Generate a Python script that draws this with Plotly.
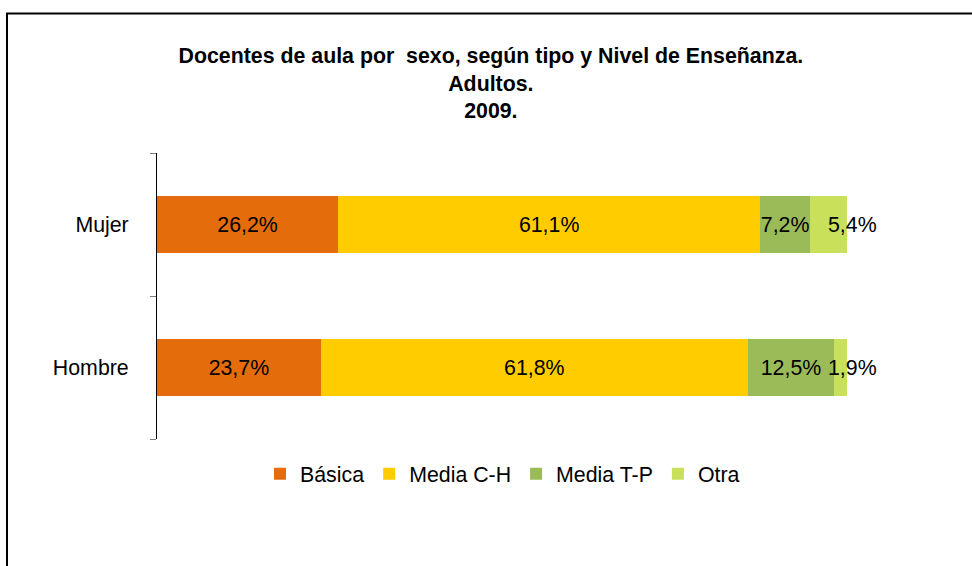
import plotly.graph_objects as go

# ---- data ----
categorias = ["Hombre", "Mujer"]
series = ["Básica", "Media C-H", "Media T-P", "Otra"]
colores = ["#E46C0A", "#FFCC00", "#9BBB59", "#C9E05A"]
valores_hombre = [23.7, 61.8, 12.5, 1.9]
valores_mujer = [26.2, 61.1, 7.2, 5.4]
titulo = "Docentes de aula por  sexo, según tipo y Nivel de Enseñanza.<br>Adultos.<br>2009."

FONT = "Arial, 'Liberation Sans', sans-serif"
FS = 21.33


def fmt(v):
    return f"{v:.1f}".replace(".", ",") + "%"


W, H = 972, 566
ML, MR, MT, MB = 157, 124, 153, 127
PW, PH = W - ML - MR, H - MT - MB

fig = go.Figure()
for i, name in enumerate(series):
    vals = [valores_hombre[i], valores_mujer[i]]
    last = i == len(series) - 1
    fig.add_trace(go.Bar(
        y=categorias,
        x=vals,
        name=name,
        orientation="h",
        marker=dict(color=colores[i], line=dict(width=0)),
        text=[fmt(v) for v in vals],
        textposition="none" if last else "inside",
        insidetextanchor="middle",
        textangle=0,
        constraintext="none",
        textfont=dict(color="black", size=FS, family=FONT),
        hoverinfo="skip",
    ))

# labels of the last (thin) segment, placed at the end of each stacked bar
totales = [sum(valores_hombre), sum(valores_mujer)]
ultimos = [valores_hombre[-1], valores_mujer[-1]]
annotations = []
for cat, tot, v in zip(categorias, totales, ultimos):
    annotations.append(dict(
        x=tot, y=cat, xref="x", yref="y", text=fmt(v), showarrow=False,
        xanchor="right", xshift=32, font=dict(color="black", size=FS, family=FONT),
    ))

# outer chart border (only top/left visible inside the picture)
shapes = [dict(
    type="rect", xref="paper", yref="paper",
    x0=(7 - ML) / PW, x1=(W + 60 - ML) / PW,
    y0=-(H + 60 - MT - PH) / PH, y1=(MT + PH - 13.5) / PH,
    line=dict(color="black", width=2), fillcolor="rgba(0,0,0,0)", layer="above",
)]

fig.update_layout(
    width=W, height=H,
    margin=dict(l=ML, r=MR, t=MT, b=MB),
    paper_bgcolor="white", plot_bgcolor="white",
    barmode="stack", bargap=0.6,
    font=dict(family=FONT, color="black", size=FS),
    title=dict(
        text="<b>" + titulo.replace("<br>", "</b><br><b>") + "</b>",
        x=0.505, xref="container", xanchor="center",
        y=1 - 63 / H, yref="container", yanchor="top",
        font=dict(size=FS, family=FONT, color="black"),
    ),
    xaxis=dict(visible=False, range=[0, 100], fixedrange=True),
    yaxis=dict(
        type="category", categoryorder="array", categoryarray=categorias,
        range=[-0.5, 1.5], showline=True, linecolor="black", linewidth=1,
        ticks="outside", ticklen=6, tickcolor="#7f7f7f", tickwidth=1,
        tickson="boundaries", showgrid=False, zeroline=False, fixedrange=True,
        ticklabelstandoff=23, tickfont=dict(size=FS, family=FONT, color="black"),
    ),
    legend=dict(
        orientation="h", x=0.5, xanchor="center", y=-(474 - MT - PH) / PH,
        yanchor="middle", font=dict(size=FS, family=FONT, color="black"),
        traceorder="normal", bgcolor="rgba(0,0,0,0)",
    ),
    showlegend=True,
    annotations=annotations,
    shapes=shapes,
)

fig.write_html(
    "out.html",
    config={"displayModeBar": False, "displaylogo": False, "staticPlot": True},
    post_script="document.body.style.margin='0';document.body.style.overflow='hidden';",
)
